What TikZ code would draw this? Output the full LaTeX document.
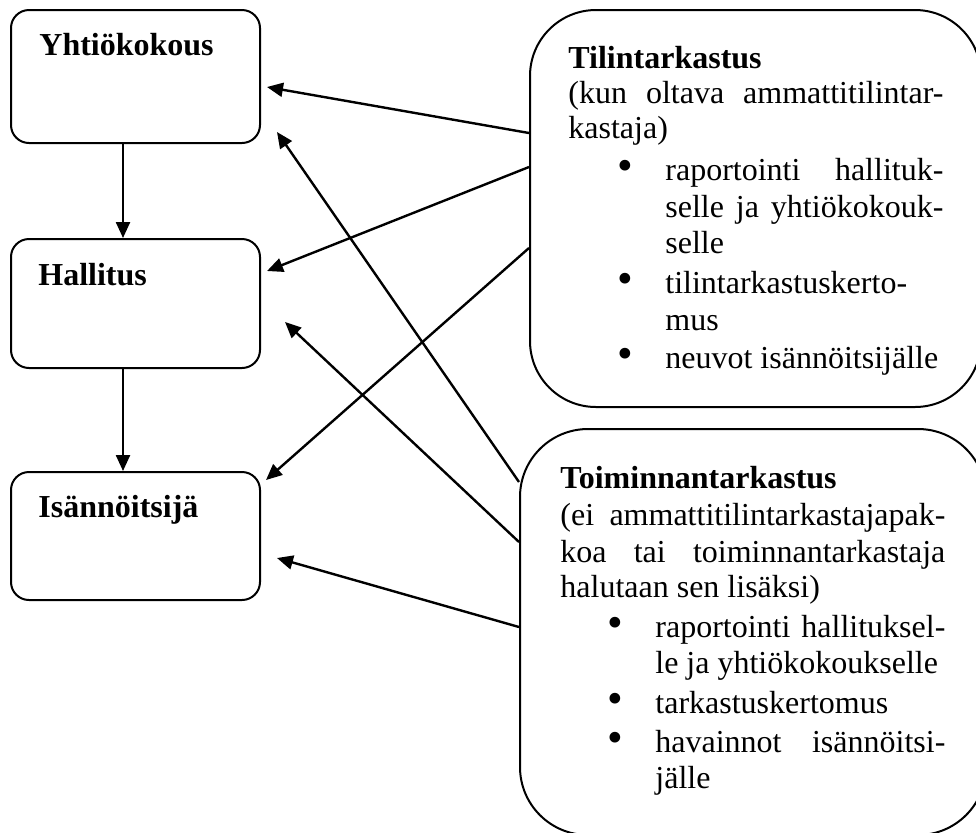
\documentclass[tikz,border=0pt]{standalone}
\usepackage{fontspec}
\usepackage{graphicx}
\setmainfont{Liberation Serif}
\usetikzlibrary{arrows.meta}
\tikzset{
  box/.style={draw, line width=1pt, rounded corners=#1, inner sep=0pt},
  lbl/.style={anchor=base west, inner sep=0pt, font=\fontsize{16}{17.5}\selectfont\bfseries},
  txt/.style={anchor=base west, inner sep=0pt, font=\fontsize{16}{17.5}\selectfont},
  arr/.style={line width=1.2pt, -{Triangle[length=8pt,width=7pt]}}
}
\newcommand{\jline}[2]{\makebox[#1][s]{#2}}
\newcommand{\bul}[2]{\hspace*{#1}\makebox[#2][l]{\smash{\scalebox{1.4}{•}}}}
\begin{document}
\begin{tikzpicture}[x=0.5pt,y=-0.5pt]
\useasboundingbox (0,0) rectangle (976,832);
\clip (0,0) rectangle (976,832);
% left boxes
\node[box=9pt, minimum width=124.5pt, minimum height=66.5pt] (yk) at (135.5,76.5) {};
\node[box=9pt, minimum width=124.5pt, minimum height=64.5pt] (ha) at (135.5,303.5) {};
\node[box=9pt, minimum width=124.5pt, minimum height=64pt] (is) at (135.5,536) {};
\node[lbl] (ykt) at (39,55) {Yhtiökokous};
\node[lbl] (hat) at (38,285) {Hallitus};
\node[lbl] (ist) at (38,517) {Isännöitsijä};
% right boxes
\node[box=33pt, minimum width=225.5pt, minimum height=198.5pt] (tt) at (755.5,208.5) {};
\node[box=34pt, minimum width=233pt, minimum height=203pt] (tm) at (753,632) {};
\node[txt] (ttt) at (568,68) {\parbox[t]{187.5pt}{%
\textbf{Tilintarkastus}\\
\jline{187.5pt}{(kun oltava ammattitilintar-}\\
kastaja)\\[3.5pt]
\bul{24.5pt}{24pt}\jline{139pt}{raportointi hallituk-}\\[1pt]
\hspace*{48.5pt}\jline{139pt}{selle ja yhtiökokouk-}\\[0.5pt]
\hspace*{48.5pt}selle\\[2.5pt]
\bul{24.5pt}{24pt}tilintarkastuskerto-\\[1pt]
\hspace*{48.5pt}mus\\[1.5pt]
\bul{24.5pt}{24pt}neuvot isännöitsijälle}};
\node[txt] (tmt) at (560,488) {\parbox[t]{192.5pt}{%
\textbf{Toiminnantarkastus}\\[1pt]
\jline{192.5pt}{(ei ammattitilintarkastajapak-}\\[1pt]
\jline{192.5pt}{koa tai toiminnantarkastaja}\\
halutaan sen lisäksi)\\[2.5pt]
\bul{23.5pt}{24pt}\jline{145pt}{raportointi hallituksel-}\\[0.5pt]
\hspace*{47.5pt}le ja yhtiökokoukselle\\[2.5pt]
\bul{23.5pt}{24pt}tarkastuskertomus\\[2pt]
\bul{23.5pt}{24pt}\jline{145pt}{havainnot isännöitsi-}\\[0.5pt]
\hspace*{47.5pt}jälle}};
% arrow targets
\coordinate (p1) at (267,87);
\coordinate (p2) at (267,271);
\coordinate (p3) at (266,480);
\coordinate (p4) at (277,132);
\coordinate (p5) at (285,322);
\coordinate (p6) at (277,558);
\coordinate (vx) at (123,0);
% vertical arrows
\draw[arr] (yk.south -| vx) -- (ha.north -| vx);
\draw[arr] (ha.south -| vx) -- (is.north -| vx);
% arrows from Tilintarkastus
\draw[arr] (tt.west |- 0,133) -- (p1);
\draw[arr] (tt.west |- 0,167) -- (p2);
\draw[arr] (tt.west |- 0,248) -- (p3);
% arrows from Toiminnantarkastus
\draw[arr] (tm.west |- 0,482) -- (p4);
\draw[arr] (tm.west |- 0,542) -- (p5);
\draw[arr] (tm.west |- 0,627) -- (p6);
\end{tikzpicture}
\end{document}
